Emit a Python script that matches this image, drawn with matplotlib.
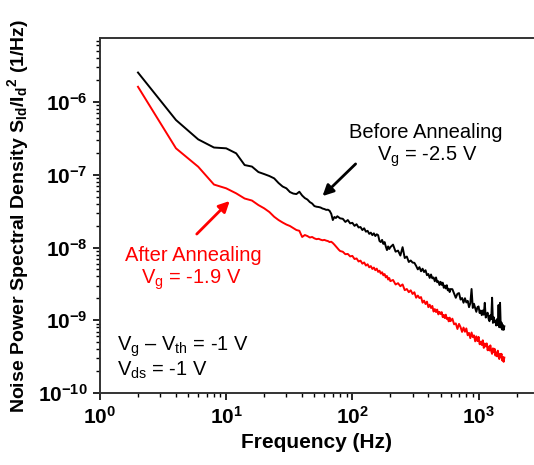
import numpy as np
import matplotlib
matplotlib.use("Agg")
import matplotlib.pyplot as plt
from matplotlib.ticker import FixedLocator, FixedFormatter, LogLocator, NullFormatter

plt.rcParams['font.family'] = ['Liberation Sans', 'DejaVu Sans']
plt.rcParams['mathtext.fontset'] = 'custom'
plt.rcParams['mathtext.rm'] = 'Liberation Sans'
plt.rcParams['mathtext.it'] = 'Liberation Sans:italic'
plt.rcParams['mathtext.bf'] = 'Liberation Sans:bold'
plt.rcParams['mathtext.default'] = 'regular'

# frequency bins (Hz): fine at low f, thinned out at high f
freq = np.concatenate([np.arange(2, 81, 2), np.arange(84, 201, 4),
                       np.arange(210, 601, 10), np.arange(620, 1601, 20)])

# log10 of S_Id/Id^2 (1/Hz)
before_exp = [
    -5.594, -6.247, -6.513, -6.625, -6.636, -6.705, -6.866, -6.887, -6.962, -6.990,
    -7.017, -7.049, -7.113, -7.161, -7.186, -7.237, -7.258, -7.265, -7.233, -7.285,
    -7.320, -7.340, -7.375, -7.395, -7.430, -7.439, -7.443, -7.450, -7.464, -7.471,
    -7.482, -7.480, -7.495, -7.536, -7.622, -7.580, -7.594, -7.570, -7.585, -7.599,
    # 84..200
    -7.605, -7.648, -7.622, -7.668, -7.660, -7.702, -7.680, -7.724, -7.718, -7.760,
    -7.735, -7.782, -7.770, -7.812, -7.795, -7.830, -7.805, -7.842, -7.818, -7.830,
    -7.910, -7.925, -7.895, -7.950, -7.925, -7.985, -8.035, -7.985, -8.020, -7.995,
    # 210..600
    -7.960, -8.057, -8.042, -8.110, -7.995, -8.144, -8.124, -8.199, -8.178, -8.207,
    -8.210, -8.252, -8.300, -8.270, -8.326, -8.291, -8.337, -8.312, -8.380, -8.364,
    -8.418, -8.371, -8.424, -8.411, -8.464, -8.411, -8.477, -8.464, -8.515, -8.471,
    -8.513, -8.483, -8.553, -8.523, -8.563, -8.518, -8.588, -8.567, -8.612, -8.571,
    # 620..1600
    -8.573, -8.634, -8.691, -8.636, -8.626, -8.715, -8.694, -8.759, -8.697, -8.755,
    -8.733, -8.820, -8.767, -8.570, -8.831, -8.773, -8.833, -8.884, -8.820, -8.810,
    -8.901, -8.866, -8.930, -8.865, -8.924, -8.760, -8.963, -8.917, -8.896, -8.979,
    -9.013, -8.931, -8.984, -8.690, -9.036, -8.959, -9.027, -9.005, -9.072, -8.984,
    -9.066, -8.790, -9.096, -8.760, -9.100, -9.032, -9.129, -9.065, -9.132, -9.083,
]

after_exp = [
    -5.790, -6.636, -6.889, -7.134, -7.186, -7.255, -7.326, -7.354, -7.416, -7.461,
    -7.512, -7.577, -7.622, -7.656, -7.684, -7.704, -7.732, -7.759, -7.770, -7.855,
    -7.828, -7.842, -7.862, -7.855, -7.874, -7.885, -7.880, -7.892, -7.900, -7.895,
    -7.905, -7.911, -7.925, -7.920, -7.938, -7.960, -7.985, -8.007, -8.030, -8.048,
    # 84..200
    -8.058, -8.092, -8.088, -8.122, -8.115, -8.158, -8.150, -8.192, -8.180, -8.222,
    -8.205, -8.248, -8.230, -8.272, -8.255, -8.295, -8.275, -8.312, -8.290, -8.335,
    -8.318, -8.358, -8.340, -8.382, -8.365, -8.410, -8.392, -8.440, -8.420, -8.462,
    # 210..600
    -8.446, -8.508, -8.490, -8.532, -8.507, -8.586, -8.570, -8.614, -8.588, -8.639,
    -8.615, -8.690, -8.660, -8.695, -8.681, -8.758, -8.730, -8.777, -8.744, -8.820,
    -8.786, -8.831, -8.803, -8.880, -8.846, -8.887, -8.853, -8.919, -8.885, -8.914,
    -8.888, -8.957, -8.926, -8.970, -8.923, -8.982, -8.966, -9.015, -8.964, -9.012,
    # 620..1600
    -8.978, -9.056, -9.043, -9.120, -9.050, -9.095, -9.160, -9.100, -9.158, -9.112,
    -9.206, -9.174, -9.246, -9.168, -9.231, -9.208, -9.290, -9.221, -9.287, -9.228,
    -9.330, -9.295, -9.340, -9.275, -9.380, -9.320, -9.360, -9.318, -9.413, -9.362,
    -9.416, -9.345, -9.423, -9.462, -9.386, -9.440, -9.392, -9.486, -9.443, -9.496,
    -9.418, -9.496, -9.533, -9.461, -9.508, -9.461, -9.553, -9.505, -9.572, -9.513,
]

psd_before = 10.0 ** np.array(before_exp)
psd_after = 10.0 ** np.array(after_exp)

xtick_exp = [0, 1, 2, 3]
ytick_exp = [-10, -9, -8, -7, -6]

fig = plt.figure(figsize=(5.34, 4.65), dpi=100)
ax = fig.add_axes([100 / 534, 72 / 465, 433 / 534, 355 / 465])

ax.plot(freq, psd_before, color='black', lw=1.4)
ax.plot(freq, psd_after, color='#ff0000', lw=1.4)

ax.set_xscale('log')
ax.set_yscale('log')
ax.set_xlim(1, 2700)
ax.set_ylim(1e-10, 7.6e-6)

ax.xaxis.set_major_locator(FixedLocator([10.0 ** e for e in xtick_exp]))
ax.xaxis.set_major_formatter(FixedFormatter([r'$\mathbf{10^{%d}}$' % e for e in xtick_exp]))
ax.yaxis.set_major_locator(FixedLocator([10.0 ** e for e in ytick_exp]))
ax.yaxis.set_major_formatter(FixedFormatter([r'$\mathbf{10^{%d}}$' % e for e in ytick_exp]))
ax.xaxis.set_minor_locator(LogLocator(base=10, subs=np.arange(2, 10), numticks=20))
ax.yaxis.set_minor_locator(LogLocator(base=10, subs=np.arange(2, 10), numticks=20))
ax.xaxis.set_minor_formatter(NullFormatter())
ax.yaxis.set_minor_formatter(NullFormatter())

ax.tick_params(which='major', direction='out', length=5, width=1.2, labelsize=15, pad=4)
ax.tick_params(which='minor', direction='out', length=3, width=1.0)

for side in ['left', 'bottom', 'top']:
    ax.spines[side].set_linewidth(1.4)
    ax.spines[side].set_color('#333333')
ax.spines['right'].set_visible(False)

ax.set_xlabel('Frequency (Hz)', fontsize=15, fontweight='bold', labelpad=4)
ax.set_ylabel(r'Noise Power Spectral Density S$_{\mathbf{Id}}$/I$_{\mathbf{d}}$$^{\mathbf{2}}$ (1/Hz)',
              fontsize=14, fontweight='bold', labelpad=5)

# annotations
ax.text(378, 3.87e-7, 'Before Annealing', fontsize=14.5, ha='center', va='center')
ax.text(392, 1.75e-7, r'V$_\mathrm{g}$ = -2.5 V', fontsize=14.5, ha='center', va='center')
ax.annotate('', xy=(55.9, 4.79e-8), xytext=(110, 1.5e-7),
            arrowprops=dict(arrowstyle='-|>', color='black', lw=2, mutation_scale=16))

ax.text(5.44, 7.89e-9, 'After Annealing', fontsize=14.5, ha='center', va='center', color='#ff0000')
ax.text(5.24, 3.57e-9, r'V$_\mathrm{g}$ = -1.9 V', fontsize=14.5, ha='center', va='center', color='#ff0000')
ax.annotate('', xy=(11.05, 4.65e-8), xytext=(5.64, 1.44e-8),
            arrowprops=dict(arrowstyle='-|>', color='#ff0000', lw=2, mutation_scale=16))

ax.text(0.039, 0.130, r'V$_\mathrm{g}$ – V$_\mathrm{th}$ = -1 V', transform=ax.transAxes,
        fontsize=14.5, ha='left', va='center')
ax.text(0.039, 0.065, r'V$_\mathrm{ds}$ = -1 V', transform=ax.transAxes,
        fontsize=14.5, ha='left', va='center')

fig.savefig('out.png', dpi=100)
